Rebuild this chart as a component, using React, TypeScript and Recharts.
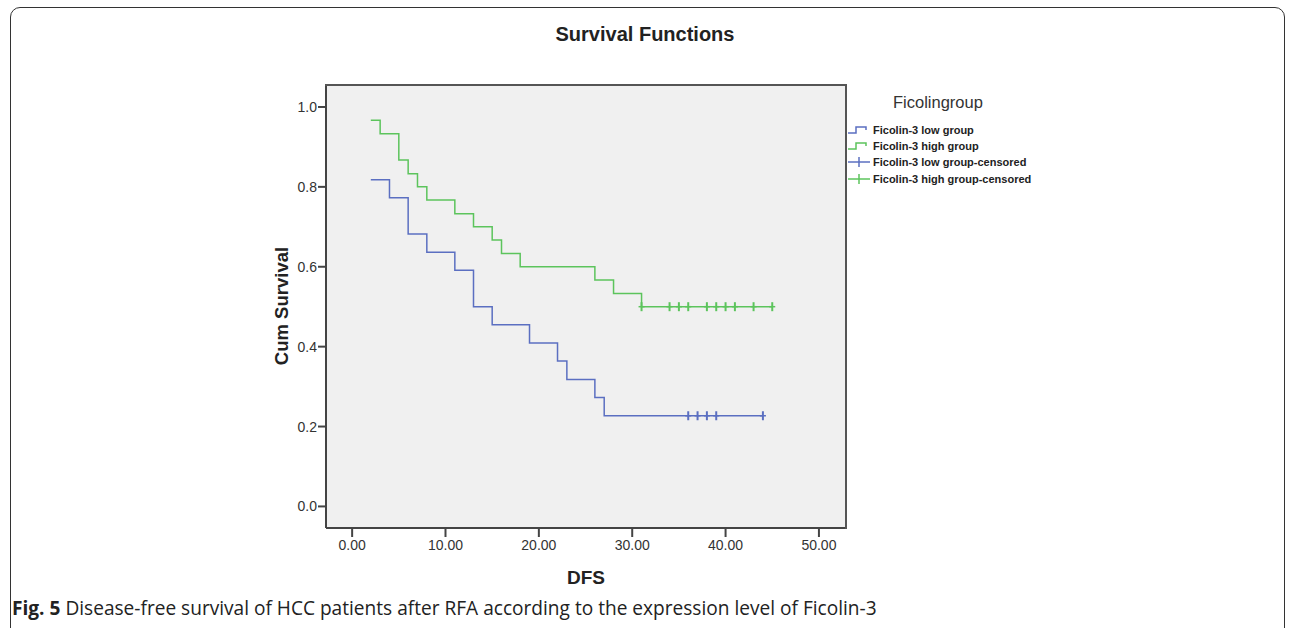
import React from 'react'
import { ComposedChart, Line, Scatter, XAxis, YAxis, CartesianGrid } from 'recharts'

// Kaplan-Meier steps (time in months, cumulative survival)
const lowTimes: number[] = [2, 4, 6, 8, 11, 13, 15, 19, 22, 23, 26, 27, 44]
const lowSurv: number[] = [0.818, 0.773, 0.682, 0.636, 0.591, 0.5, 0.455, 0.409, 0.364, 0.318, 0.273, 0.227, 0.227]
const lowCensored: number[] = [36, 37, 38, 39, 44]

const highTimes: number[] = [2, 3, 5, 6, 7, 8, 11, 13, 15, 16, 18, 26, 28, 31, 45]
const highSurv: number[] = [0.967, 0.933, 0.867, 0.833, 0.8, 0.767, 0.733, 0.7, 0.667, 0.633, 0.6, 0.567, 0.533, 0.5, 0.5]
const highCensored: number[] = [31, 34, 35, 36, 38, 39, 40, 41, 43, 45]

const xTicks: number[] = [0, 10, 20, 30, 40, 50]
const yTicks: number[] = [0, 0.2, 0.4, 0.6, 0.8, 1.0]

const legendLabels: string[] = [
    'Ficolin-3 low group',
    'Ficolin-3 high group',
    'Ficolin-3 low group-censored',
    'Ficolin-3 high group-censored',
]

const BLUE = '#5b6fc1'
const GREEN = '#5cc45c'
const FONT = 'Arial, "Liberation Sans", sans-serif'

const toPoints = (times: number[], surv: number[]) => times.map((t, i) => ({ t, s: surv[i] }))

const survAt = (times: number[], surv: number[], t: number) => {
    let v = surv[0]
    times.forEach((tt, i) => {
        if (tt <= t) v = surv[i]
    })
    return v
}

const lowLine = toPoints(lowTimes, lowSurv)
const highLine = toPoints(highTimes, highSurv)
const lowCens = lowCensored.map(t => ({ t, s: survAt(lowTimes, lowSurv, t) }))
const highCens = highCensored.map(t => ({ t, s: survAt(highTimes, highSurv, t) }))

const plusShape = (color: string) => (props: any) => {
    const { cx, cy } = props
    if (cx == null || cy == null) return <g />
    return (
        <g>
            <line x1={cx} x2={cx} y1={cy - 4.5} y2={cy + 4.5} stroke={color} strokeWidth={2} />
            <line x1={cx - 3} x2={cx + 3} y1={cy} y2={cy} stroke={color} strokeWidth={1.5} />
        </g>
    )
}

const StepIcon = ({ color }: { color: string }) => (
    <svg width={24} height={12} style={{ display: 'block' }}>
        <path d="M1,9 H9 V3 H19 V6" fill="none" stroke={color} strokeWidth={1.5} />
    </svg>
)

const CensIcon = ({ color }: { color: string }) => (
    <svg width={24} height={12} style={{ display: 'block' }}>
        <line x1={1} x2={23} y1={6} y2={6} stroke={color} strokeWidth={1.5} />
        <line x1={12} x2={12} y1={1} y2={11} stroke={color} strokeWidth={1.5} />
    </svg>
)

const App: React.FC = () => {
    const legendIcons = [
        <StepIcon color={BLUE} />,
        <StepIcon color={GREEN} />,
        <CensIcon color={BLUE} />,
        <CensIcon color={GREEN} />,
    ]
    return (
        <div style={{ position: 'absolute', left: 0, top: 0, width: 1290, height: 628, background: '#fff', overflow: 'hidden' }}>
            <div style={{
                position: 'absolute', left: 10, top: 7, width: 1273, height: 640,
                border: '1.5px solid #333', borderRadius: 10,
            }} />
            <div style={{
                position: 'absolute', left: 0, width: 1290, top: 23, textAlign: 'center',
                fontFamily: FONT, fontWeight: 'bold', fontSize: 20, color: '#222',
            }}>
                Survival Functions
            </div>

            <div style={{ position: 'absolute', left: 0, top: 0 }}>
                <ComposedChart
                    width={1290}
                    height={628}
                    margin={{ top: 85, right: 444, left: 266, bottom: 60 }}
                >
                    <CartesianGrid horizontal={false} vertical={false} fill="#f0f0f0" />
                    <XAxis
                        dataKey="t"
                        type="number"
                        domain={[-2.8, 52.9]}
                        allowDataOverflow
                        ticks={xTicks}
                        tickFormatter={(v: number) => v.toFixed(2)}
                        height={40}
                        tickSize={9}
                        tickMargin={3}
                        axisLine={{ stroke: '#444', strokeWidth: 2 }}
                        tickLine={{ stroke: '#444', strokeWidth: 2 }}
                        tick={{ fill: '#333', fontSize: 14, fontFamily: FONT }}
                    />
                    <YAxis
                        type="number"
                        domain={[-0.054, 1.055]}
                        allowDataOverflow
                        ticks={yTicks}
                        tickFormatter={(v: number) => v.toFixed(1)}
                        width={60}
                        tickSize={8}
                        tickMargin={1}
                        axisLine={{ stroke: '#444', strokeWidth: 2 }}
                        tickLine={{ stroke: '#444', strokeWidth: 2 }}
                        tick={{ fill: '#333', fontSize: 14, fontFamily: FONT }}
                    />
                    <Line data={lowLine} dataKey="s" type="stepAfter" stroke={BLUE} strokeWidth={1.5}
                        dot={false} activeDot={false} isAnimationActive={false} />
                    <Line data={highLine} dataKey="s" type="stepAfter" stroke={GREEN} strokeWidth={1.5}
                        dot={false} activeDot={false} isAnimationActive={false} />
                    <Scatter data={lowCens} dataKey="s" shape={plusShape(BLUE)} isAnimationActive={false} />
                    <Scatter data={highCens} dataKey="s" shape={plusShape(GREEN)} isAnimationActive={false} />
                </ComposedChart>
            </div>
            {/* frame round the plot area, top and right edges */}
            <div style={{
                position: 'absolute', left: 325, top: 84, width: 520, height: 443,
                borderTop: '2px solid #555', borderRight: '2px solid #555', pointerEvents: 'none',
            }} />

            <div style={{
                position: 'absolute', left: 282, top: 306, transform: 'translate(-50%, -50%) rotate(-90deg)',
                fontFamily: FONT, fontWeight: 'bold', fontSize: 18.5, color: '#222', whiteSpace: 'nowrap',
            }}>
                Cum Survival
            </div>
            <div style={{
                position: 'absolute', left: 586, top: 578, transform: 'translate(-50%, -50%)',
                fontFamily: FONT, fontWeight: 'bold', fontSize: 19, color: '#222',
            }}>
                DFS
            </div>

            <div style={{ position: 'absolute', left: 893, top: 93, fontFamily: FONT, fontSize: 16.5, color: '#333' }}>
                Ficolingroup
            </div>
            <div style={{ position: 'absolute', left: 847, top: 122 }}>
                {legendLabels.map((label, i) => (
                    <div key={label} style={{ display: 'flex', alignItems: 'center', height: 16.2 }}>
                        {legendIcons[i]}
                        <span style={{ fontFamily: FONT, fontWeight: 'bold', fontSize: 11, color: '#222', marginLeft: 2 }}>
                            {label}
                        </span>
                    </div>
                ))}
            </div>

            <div style={{
                position: 'absolute', left: 12, top: 599, fontFamily: '"Open Sans", sans-serif',
                fontSize: 19.1, lineHeight: 1, color: '#222', whiteSpace: 'nowrap',
            }}>
                <b>Fig. 5</b> Disease-free survival of HCC patients after RFA according to the expression level of Ficolin-3
            </div>
        </div>
    )
}

export default App
